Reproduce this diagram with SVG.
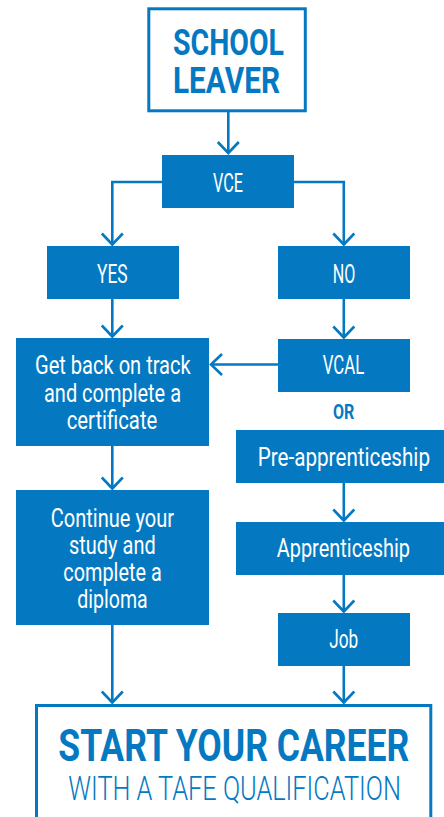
<svg xmlns="http://www.w3.org/2000/svg" width="444" height="817" viewBox="0 0 444 817">
<defs>
<style>
.box{fill:#0479c1}
.frame{fill:none;stroke:#0479c1;stroke-width:3}
.t{font-family:Roboto,"Liberation Sans",sans-serif;font-size:25px;font-weight:400;fill:#ffffff}
.title{font-family:Roboto,"Liberation Sans",sans-serif;font-weight:700;fill:#0479c1}
.sub{font-family:Roboto,"Liberation Sans",sans-serif;font-weight:300;fill:#0479c1}
.c{fill:none;stroke:#0479c1;stroke-width:2.6}
</style>
<marker id="arr" markerUnits="userSpaceOnUse" viewBox="-13 -13 26 26" refX="0" refY="0" markerWidth="26" markerHeight="26" orient="auto">
<path d="M-11,-10.5 L0,0 L-11,10.5" fill="none" stroke="#0479c1" stroke-width="2.6"/>
</marker>
</defs>
<rect width="444" height="817" fill="#ffffff"/>
<g id="connectors">
<path class="c" d="M228.3,112 V153" marker-end="url(#arr)"/>
<path class="c" d="M162,182 H112.3 V244.5" marker-end="url(#arr)"/>
<path class="c" d="M294,182 H343.8 V244.5" marker-end="url(#arr)"/>
<path class="c" d="M112.3,299 V336.5" marker-end="url(#arr)"/>
<path class="c" d="M343.8,299 V337.5" marker-end="url(#arr)"/>
<path class="c" d="M278,364.5 H211" marker-end="url(#arr)"/>
<path class="c" d="M112.3,446 V488.5" marker-end="url(#arr)"/>
<path class="c" d="M343.8,483 V520.5" marker-end="url(#arr)"/>
<path class="c" d="M343.8,575 V611.5" marker-end="url(#arr)"/>
<path class="c" d="M112.3,625 V702.5" marker-end="url(#arr)"/>
<path class="c" d="M343.8,666 V702.5" marker-end="url(#arr)"/>
</g>
<g id="school-leaver">
<rect class="frame" x="148.8" y="8.8" width="156.5" height="102"/>
<text class="title" x="173" y="55" font-size="37" textLength="111" lengthAdjust="spacingAndGlyphs">SCHOOL</text>
<text class="title" x="173" y="93.3" font-size="37" textLength="107" lengthAdjust="spacingAndGlyphs">LEAVER</text>
</g>
<g id="vce">
<rect class="box" x="162" y="155" width="132" height="53"/>
<text class="t" x="213" y="191.7" textLength="30" lengthAdjust="spacingAndGlyphs">VCE</text>
</g>
<g id="yes">
<rect class="box" x="47" y="246" width="132" height="53"/>
<text class="t" x="97" y="282.7" textLength="30.7" lengthAdjust="spacingAndGlyphs">YES</text>
</g>
<g id="no">
<rect class="box" x="278" y="246" width="132" height="53"/>
<text class="t" x="332.7" y="282.7" textLength="22.6" lengthAdjust="spacingAndGlyphs">NO</text>
</g>
<g id="get-back">
<rect class="box" x="16" y="338" width="193" height="108"/>
<text class="t" x="35" y="374.3" textLength="155.7" lengthAdjust="spacingAndGlyphs">Get back on track</text>
<text class="t" x="44" y="401.7" textLength="137" lengthAdjust="spacingAndGlyphs">and complete a</text>
<text class="t" x="66.7" y="429" textLength="90.6" lengthAdjust="spacingAndGlyphs">certificate</text>
</g>
<g id="vcal">
<rect class="box" x="278" y="339" width="132" height="53"/>
<text class="t" x="322.7" y="374.3" textLength="41.6" lengthAdjust="spacingAndGlyphs">VCAL</text>
</g>
<g id="or">
<text class="title" x="333" y="419" font-size="20" textLength="21.3" lengthAdjust="spacingAndGlyphs">OR</text>
</g>
<g id="pre-apprenticeship">
<rect class="box" x="236" y="430" width="208" height="53"/>
<text class="t" x="257.7" y="465.7" textLength="172.3" lengthAdjust="spacingAndGlyphs">Pre-apprenticeship</text>
</g>
<g id="continue">
<rect class="box" x="16" y="490" width="193" height="135"/>
<text class="t" x="50.7" y="526.7" textLength="123.3" lengthAdjust="spacingAndGlyphs">Continue your</text>
<text class="t" x="69" y="554" textLength="86.7" lengthAdjust="spacingAndGlyphs">study and</text>
<text class="t" x="63.3" y="580.7" textLength="98.4" lengthAdjust="spacingAndGlyphs">complete a</text>
<text class="t" x="77.3" y="607.7" textLength="70.4" lengthAdjust="spacingAndGlyphs">diploma</text>
</g>
<g id="apprenticeship">
<rect class="box" x="236" y="522" width="208" height="53"/>
<text class="t" x="276.7" y="556.7" textLength="133.3" lengthAdjust="spacingAndGlyphs">Apprenticeship</text>
</g>
<g id="job">
<rect class="box" x="278" y="613" width="132" height="53"/>
<text class="t" x="329.3" y="648.3" textLength="29" lengthAdjust="spacingAndGlyphs">Job</text>
</g>
<g id="start-career">
<rect class="frame" x="36.5" y="705.5" width="394.3" height="140"/>
<text class="title" x="58.3" y="760.7" font-size="45" textLength="351" lengthAdjust="spacingAndGlyphs">START YOUR CAREER</text>
<text class="sub" x="68.3" y="800" font-size="34" textLength="332.7" lengthAdjust="spacingAndGlyphs">WITH A TAFE QUALIFICATION</text>
</g>
</svg>
